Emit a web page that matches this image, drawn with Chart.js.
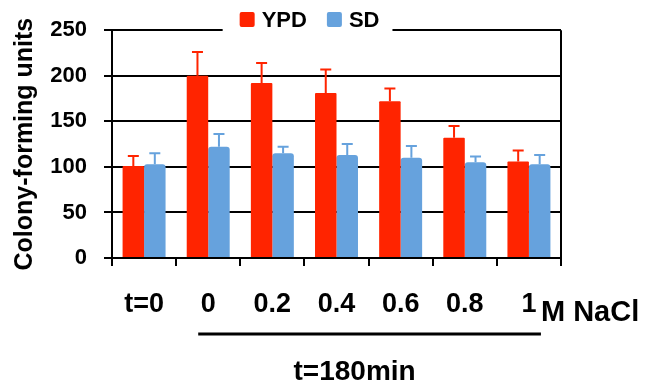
<!DOCTYPE html>
<html>
<head>
<meta charset="utf-8">
<title>Colony-forming units</title>
<script src="https://cdn.jsdelivr.net/npm/chart.js@4.4.1/dist/chart.umd.min.js"></script>
<style>
  html, body { margin: 0; padding: 0; background: #fff; }
</style>
</head>
<body>
<canvas id="chart" width="652" height="383"></canvas>
<script>
// ---- Data ----
const categories = ["t=0", "0", "0.2", "0.4", "0.6", "0.8", "1"];
const ypdValues = [101, 200, 192, 181, 172, 132, 106];
const ypdErrors = [11, 26, 22, 26, 14, 13, 12];
const sdValues = [103, 122, 115, 113, 110, 105, 103];
const sdErrors = [12, 14, 7, 12, 13, 6.5, 10];
const yTicks = [0, 50, 100, 150, 200, 250];

const RED = "#FF2400";
const BLUE = "#66A2DD";
const FONT = "'Liberation Sans', Arial, sans-serif";

Chart.defaults.font.family = FONT;
Chart.defaults.color = "#000";

// ---- Error bars (upper only) ----
const errorBars = {
  id: "errorBars",
  afterDatasetsDraw(chart) {
    const ctx = chart.ctx;
    const y = chart.scales.y;
    chart.data.datasets.forEach((ds, di) => {
      const meta = chart.getDatasetMeta(di);
      meta.data.forEach((bar, i) => {
        const top = y.getPixelForValue(ds.data[i] + ds.errors[i]);
        ctx.save();
        ctx.strokeStyle = ds.backgroundColor;
        ctx.lineWidth = 2;
        ctx.beginPath();
        ctx.moveTo(bar.x, bar.y);
        ctx.lineTo(bar.x, top);
        ctx.moveTo(bar.x - 5.5, top);
        ctx.lineTo(bar.x + 5.5, top);
        ctx.stroke();
        ctx.restore();
      });
    });
  }
};

// ---- Legend on the top border, axis annotations ----
const extras = {
  id: "extras",
  afterDraw(chart) {
    const ctx = chart.ctx;
    const area = chart.chartArea;
    const x = chart.scales.x;

    // legend
    ctx.save();
    ctx.font = "bold 22px " + FONT;
    ctx.textBaseline = "middle";
    const items = chart.data.datasets.map(ds => ({
      text: ds.label, color: ds.backgroundColor, w: ctx.measureText(ds.label).width
    }));
    const box = 15, gap = 7, spacing = 20;
    const total = items.reduce((s, it) => s + box + gap + it.w, 0) + spacing * (items.length - 1);
    let cx = area.left + area.width * 0.44 - total / 2;
    ctx.fillStyle = "#fff";
    ctx.fillRect(cx - 17, area.top - 3, total + 30, 6);
    items.forEach(it => {
      ctx.fillStyle = it.color;
      ctx.beginPath();
      ctx.roundRect(cx, 12, box, box, 2);
      ctx.fill();
      ctx.fillStyle = "#000";
      ctx.fillText(it.text, cx + box + gap, 21);
      cx += box + gap + it.w + spacing;
    });

    // unit label after the last category
    const last = x.getPixelForValue(categories.length - 1);
    const first = x.getPixelForValue(1);
    ctx.font = "bold 29px " + FONT;
    ctx.textBaseline = "alphabetic";
    ctx.textAlign = "left";
    ctx.fillText("M NaCl", last + 12, 321);

    // bracket line under the 180 min groups
    ctx.strokeStyle = "#000";
    ctx.lineWidth = 3;
    ctx.beginPath();
    ctx.moveTo(first - 10, 334);
    ctx.lineTo(last + 12, 334);
    ctx.stroke();

    ctx.font = "bold 28px " + FONT;
    ctx.textAlign = "center";
    ctx.fillText("t=180min", (first + last) / 2 - 14, 380);
    ctx.restore();
  }
};

new Chart(document.getElementById("chart"), {
  type: "bar",
  data: {
    labels: categories,
    datasets: [
      {
        label: "YPD",
        data: ypdValues,
        errors: ypdErrors,
        backgroundColor: RED,
        borderRadius: 1,
        categoryPercentage: 0.67,
        barPercentage: 1
      },
      {
        label: "SD",
        data: sdValues,
        errors: sdErrors,
        backgroundColor: BLUE,
        borderRadius: 3,
        categoryPercentage: 0.67,
        barPercentage: 1
      }
    ]
  },
  options: {
    responsive: false,
    animation: false,
    layout: { padding: { top: 30, right: 91, left: 0, bottom: 0 } },
    plugins: {
      legend: { display: false },
      tooltip: { enabled: false }
    },
    scales: {
      x: {
        grid: {
          offset: true,
          lineWidth: 2,
          tickLength: 8,
          tickColor: "#000",
          // only the closing line on the right edge of the plot
          color: c => (c.type === "tick" ? "rgba(0,0,0,0)" : "#000")
        },
        border: { color: "#000", width: 2 },
        ticks: {
          font: { size: 27, weight: "bold" },
          color: "#000",
          padding: 22,
          maxRotation: 0
        },
        afterFit: s => { s.height = 125; }
      },
      y: {
        min: 0,
        max: 250,
        afterBuildTicks: s => { s.ticks = yTicks.map(v => ({ value: v })); },
        grid: { color: "#000", lineWidth: 2, tickLength: 8 },
        border: { color: "#000", width: 2 },
        ticks: {
          font: { size: 22, weight: "bold" },
          color: "#000",
          padding: 17
        },
        title: {
          display: true,
          text: "Colony-forming units",
          font: { size: 25, weight: "bold" },
          color: "#000",
          padding: { top: 10, bottom: 0 }
        },
        afterFit: s => { s.width = 112; }
      }
    }
  },
  plugins: [errorBars, extras]
});
</script>
</body>
</html>
